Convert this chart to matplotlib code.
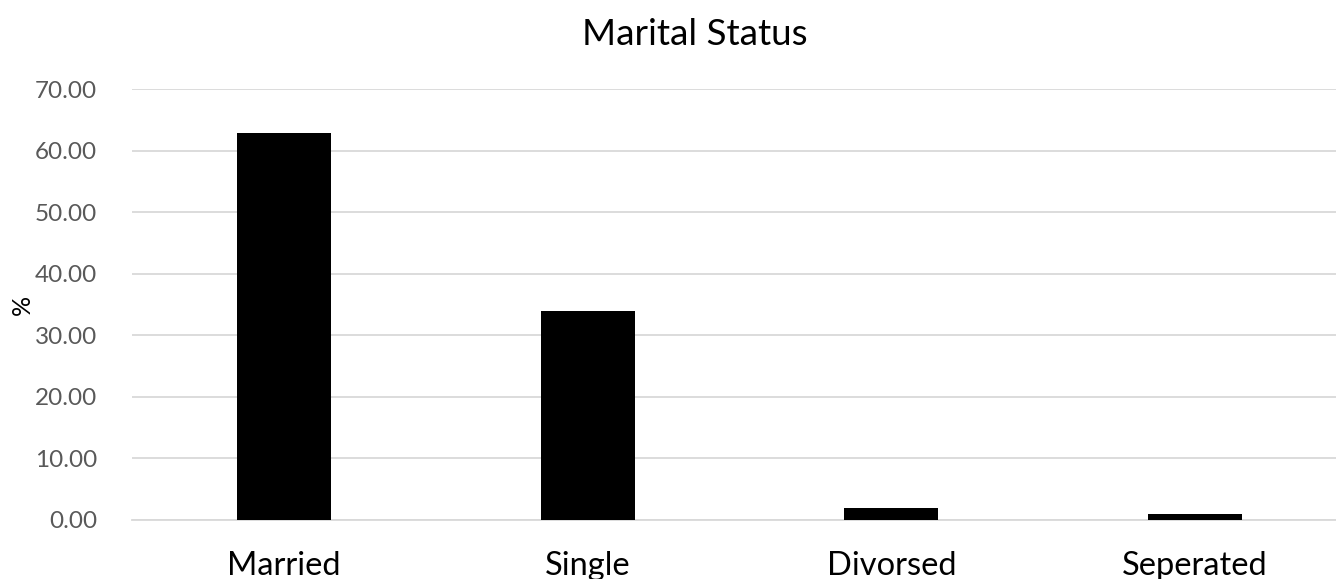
import matplotlib.pyplot as plt

# Дані
categories = ['Married', 'Single', 'Divorsed', 'Seperated']
percent = [62.8, 33.9, 1.9, 1.0]
yticks = [0, 10, 20, 30, 40, 50, 60, 70]

plt.rcParams['font.family'] = ['Lato', 'DejaVu Sans']

fig = plt.figure(figsize=(13.36, 5.79), dpi=100)
ax = fig.add_axes([132 / 1336, 1 - 520 / 579, 1215 / 1336, 431 / 579])

x = range(len(categories))
ax.bar(x, percent, width=0.31, color='black', zorder=3)

ax.set_xlim(-0.5, len(categories) - 0.5)
ax.set_ylim(0, 70)
ax.set_yticks(yticks)
ax.set_yticklabels([f'{v:.2f}' for v in yticks], fontsize=17.5, color='#595959')
ax.set_xticks(list(x))
ax.set_xticklabels(categories, fontsize=23.5, color='black')
ax.tick_params(axis='y', length=0, pad=25)
ax.tick_params(axis='x', length=0, pad=22)

ax.grid(axis='y', color='#d9d9d9', linewidth=1.3, zorder=0)
for s in ['top', 'right', 'left']:
    ax.spines[s].set_visible(False)
ax.spines['bottom'].set_color('#d9d9d9')
ax.spines['bottom'].set_linewidth(1.3)

# підпис осі Y
fig.text(22 / 1336, 1 - 305 / 579, '%', rotation=90, ha='center', va='center',
         fontsize=18, color='black')
fig.text(695 / 1336, 1 - 45 / 579, 'Marital Status', ha='center', va='baseline',
         fontsize=26.5)

fig.savefig('out.png', dpi=100)
